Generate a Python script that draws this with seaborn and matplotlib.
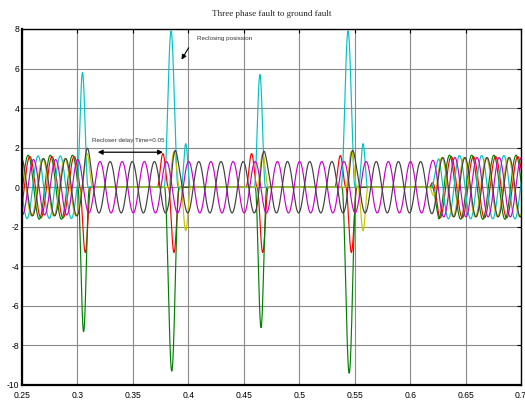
import numpy as np
import pandas as pd
import matplotlib
matplotlib.use("Agg")
import matplotlib.pyplot as plt
import seaborn as sns

# ---- data ----
curves = ["red", "green", "cyan", "yellow", "magenta", "black"]
colors = ["#ff0000", "#008000", "#00c4c4", "#c4c400", "#cc00cc", "#404040"]
freq_hz = 50.0
peak_ref = [0.0170, 0.0155, 0.0045, 0.0086, 0.0003, 0.0094]   # time of a positive crest (mod one period)
amp_pre = [1.55, 1.62, 1.58, 1.45, 1.40, 1.45]
amp_open = [0.0, 0.0, 0.0, 0.0, 1.30, 1.30]
amp_post = [1.55, 1.62, 1.60, 1.50, 1.50, 1.50]
fault_time = 0.2995
reclose_time = 0.618

pulse_curve = (["cyan"] * 6 + ["green"] * 4 + ["red"] * 7 + ["yellow"] * 6 + ["black"] * 4)
pulse_time = [0.3045, 0.3844, 0.3976, 0.4645, 0.5440, 0.5575,
              0.3055, 0.3850, 0.4655, 0.5450,
              0.3070, 0.3770, 0.3870, 0.4570, 0.4670, 0.5370, 0.5470,
              0.3086, 0.3870, 0.3976, 0.4670, 0.5470, 0.5575,
              0.3085, 0.3870, 0.4670, 0.5470]
pulse_peak = [5.8, 7.9, 2.2, 5.7, 7.9, 2.2,
              -7.3, -9.3, -7.1, -9.4,
              -3.3, 1.7, -3.3, 1.7, -3.3, 1.6, -3.3,
              1.7, 1.8, -2.2, 1.7, 1.8, -2.2,
              0.7, 0.75, 0.7, 0.75]
pulse_width = [0.0050, 0.0063, 0.0040, 0.0050, 0.0063, 0.0040,
               0.0052, 0.0065, 0.0052, 0.0065,
               0.0050, 0.0050, 0.0050, 0.0050, 0.0050, 0.0050, 0.0050,
               0.0050, 0.0050, 0.0045, 0.0050, 0.0050, 0.0045,
               0.0050, 0.0050, 0.0050, 0.0050]

x_ticks = [0.25, 0.3, 0.35, 0.4, 0.45, 0.5, 0.55, 0.6, 0.65, 0.7]
y_ticks = [-10, -8, -6, -4, -2, 0, 2, 4, 6, 8]

# ---- build waveforms ----
t = np.linspace(0.25, 0.70, 9001)
period = 1.0 / freq_hz
rows = []
for i, name in enumerate(curves):
    ref = peak_ref[i]
    carrier = np.cos(2 * np.pi * freq_hz * (t - ref))
    k = np.ceil((fault_time - ref - period / 4) / (period / 2))
    t_off = ref + period / 4 + k * period / 2
    ramp = np.clip((t - reclose_time) / 0.008, 0, 1)
    env_post = amp_open[i] + (amp_post[i] - amp_open[i]) * ramp
    env = np.where(t < t_off, amp_pre[i], env_post)
    v = env * carrier
    for c, tc, pk, w in zip(pulse_curve, pulse_time, pulse_peak, pulse_width):
        if c == name:
            m = np.abs(t - tc) < w
            v[m] += pk * np.cos(np.pi * (t[m] - tc) / (2 * w)) ** 2
    rows.append(pd.DataFrame({"t": t, "v": v, "curve": name}))
df = pd.concat(rows, ignore_index=True)

# ---- plot ----
sns.set_style("white")
plt.rcParams["font.family"] = ["Liberation Sans", "DejaVu Sans"]
fig = plt.figure(figsize=(5.25, 4.05), dpi=100)
ax = fig.add_axes([0.042, 0.0494, 0.9505, 0.879])

ax.set_xlim(0.25, 0.70)
ax.set_ylim(-10, 8)
ax.set_xticks(x_ticks)
ax.set_xticklabels([f"{v:g}" for v in x_ticks])
ax.set_yticks(y_ticks)
ax.set_yticklabels([f"{v:g}" for v in y_ticks])
ax.grid(True, color="#8a8a8a", lw=0.8)
ax.set_axisbelow(True)

sns.lineplot(data=df, x="t", y="v", hue="curve", hue_order=curves,
             palette=dict(zip(curves, colors)), legend=False, lw=0.85,
             estimator=None, sort=False, ax=ax)

ax.set_xlabel("")
ax.set_ylabel("")
ax.tick_params(axis="both", which="both", direction="in", length=3, width=0.8,
               labelsize=6.2, top=True, right=True, colors="black")
ax.tick_params(axis="x", pad=4)
ax.tick_params(axis="y", pad=2)
for s in ax.spines.values():
    s.set_color("black")
    s.set_linewidth(1.0)
ax.spines["left"].set_linewidth(1.6)
ax.spines["bottom"].set_linewidth(1.6)

ax.set_title("Three phase fault to ground fault", fontsize=6.5,
             family=["Liberation Serif", "DejaVu Serif"], pad=9)

ax.annotate("", xy=(0.3925, 6.33), xytext=(0.4015, 7.17),
            arrowprops=dict(arrowstyle="-|>", color="black", lw=0.8, mutation_scale=7))
ax.text(0.4075, 7.5, "Reclosing posission", fontsize=4.5, color="#333333", va="center")
ax.annotate("", xy=(0.3158, 1.77), xytext=(0.3796, 1.77),
            arrowprops=dict(arrowstyle="<|-|>", color="black", lw=0.9, mutation_scale=7))
ax.text(0.3131, 2.37, "Recloser delay Time=0.05", fontsize=4.5, color="#333333", va="center")

fig.savefig("out.png", dpi=100)
